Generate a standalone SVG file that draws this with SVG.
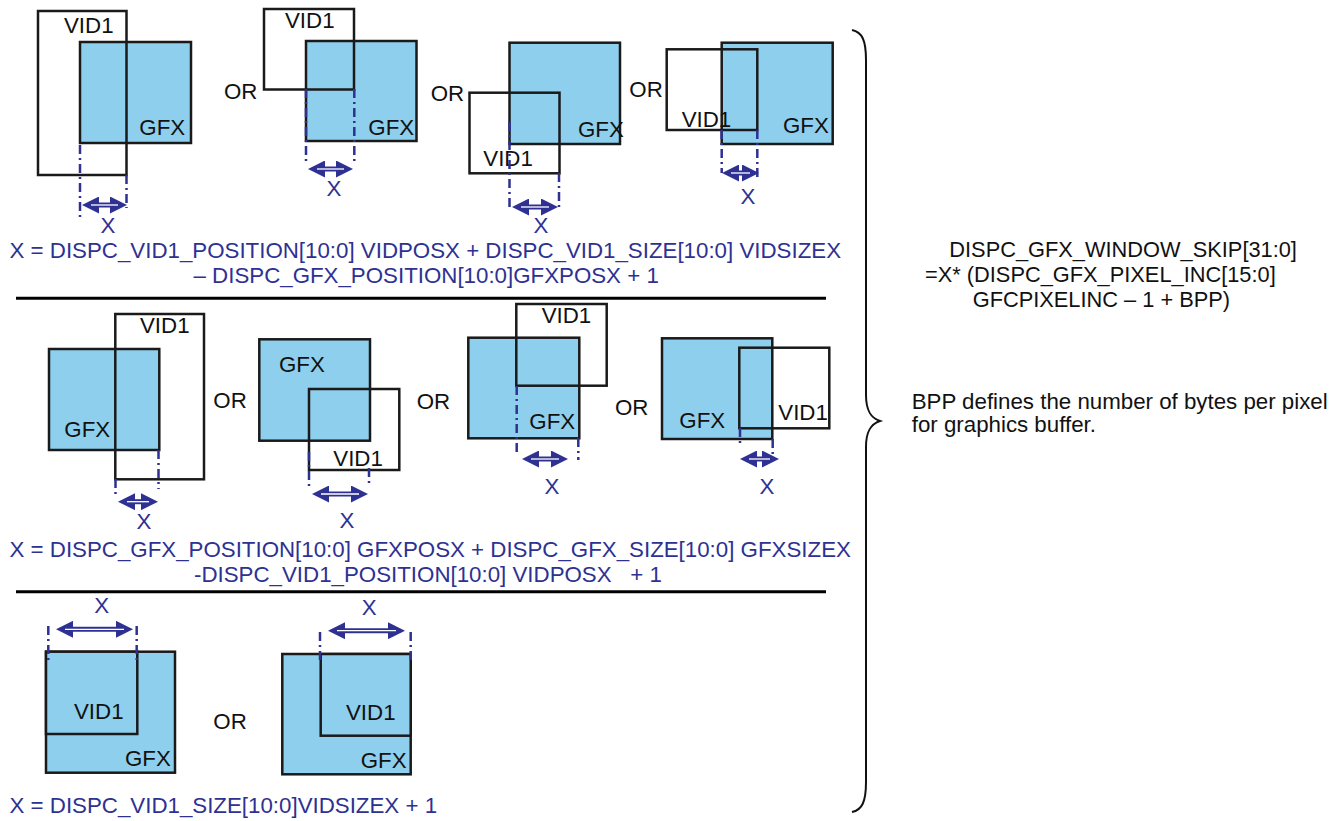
<svg xmlns="http://www.w3.org/2000/svg" width="1344" height="821" viewBox="0 0 1344 821">
<style>
.gfx{fill:#8ecfed;stroke:#1a1a1a;stroke-width:2.5}
.vid{fill:none;stroke:#1a1a1a;stroke-width:2.5}
.vidf{fill:#8ecfed;stroke:#1a1a1a;stroke-width:2.5}
text{font-family:"Liberation Sans",Arial,Helvetica,sans-serif;font-size:22.3px;fill:#111}
.blu{fill:#2e3192}
.mid{text-anchor:middle}
.rt{font-size:21.8px}
.dd{stroke:#2e3192;stroke-width:2.5;stroke-dasharray:9 4 2 4;fill:none}
.arr{stroke:#2e3192;stroke-width:5;fill:none;marker-start:url(#ah);marker-end:url(#ah)}
.arw{stroke:#ffffff;stroke-width:1.3}
.sep{stroke:#000;stroke-width:3}
.brace{fill:none;stroke:#111;stroke-width:2}
</style>
<defs>
<marker id="ah" markerUnits="userSpaceOnUse" markerWidth="17" markerHeight="17" viewBox="0 0 17 17" refX="4" refY="8.5" orient="auto-start-reverse">
<path d="M0,0 L17,8.5 L0,17 z" fill="#2e3192"/>
</marker>
</defs>
<rect width="1344" height="821" fill="#fff"/>

<g id="d1">
<rect class="gfx" x="80" y="42" width="111" height="101"/>
<rect class="vid" x="38" y="11" width="88.5" height="164"/>
<text x="64" y="33">VID1</text>
<text x="139.3" y="135">GFX</text>
</g>
<g id="or1"><text x="224" y="99">OR</text></g>
<g id="d2">
<rect class="gfx" x="306" y="41" width="110.5" height="100"/>
<rect class="vid" x="264" y="9" width="90" height="80.5"/>
<text x="285" y="28">VID1</text>
<text x="368.3" y="135">GFX</text>
</g>
<g id="or2"><text x="430.7" y="100.7">OR</text></g>
<g id="d3">
<rect class="gfx" x="509.5" y="42.7" width="110.5" height="101.3"/>
<rect class="vid" x="469.5" y="92.7" width="90" height="80.6"/>
<text x="483.3" y="165.7">VID1</text>
<text x="578" y="136.7">GFX</text>
</g>
<g id="or3"><text x="629.3" y="97.3">OR</text></g>
<g id="d4">
<rect class="gfx" x="721.7" y="42.7" width="111" height="101.3"/>
<rect class="vid" x="666.7" y="49.3" width="90.6" height="80.7"/>
<text x="681.7" y="126.7">VID1</text>
<text x="783" y="133.3">GFX</text>
</g>
<g id="f1">
<text class="blu" x="9.5" y="258.3">X = DISPC_VID1_POSITION[10:0] VIDPOSX + DISPC_VID1_SIZE[10:0] VIDSIZEX</text>
<text class="blu" x="193.5" y="283.3">– DISPC_GFX_POSITION[10:0]GFXPOSX + 1</text>
</g>

<g id="d5">
<rect class="gfx" x="49" y="349" width="110.3" height="101"/>
<rect class="vid" x="115.3" y="314" width="88.7" height="165.3"/>
<text x="140" y="333.3">VID1</text>
<text x="64.3" y="437.3">GFX</text>
</g>
<g id="or4"><text x="213.3" y="408.3">OR</text></g>
<g id="d6">
<rect class="gfx" x="259.3" y="339.3" width="110.7" height="101.4"/>
<rect class="vid" x="309" y="389" width="90.3" height="81"/>
<text x="279" y="371.7">GFX</text>
<text x="333.3" y="466">VID1</text>
</g>
<g id="or5"><text x="416.7" y="409.3">OR</text></g>
<g id="d7">
<rect class="gfx" x="468.3" y="337.7" width="111" height="100.6"/>
<rect class="vid" x="516.3" y="304" width="90.4" height="81.7"/>
<text x="541.7" y="322.7">VID1</text>
<text x="529.3" y="429.3">GFX</text>
</g>
<g id="or6"><text x="615" y="415">OR</text></g>
<g id="d8">
<rect class="gfx" x="662" y="338.3" width="110.3" height="100.7"/>
<rect class="vid" x="739.3" y="347.7" width="90" height="80.6"/>
<text x="679.3" y="428.3">GFX</text>
<text x="778.3" y="420">VID1</text>
</g>
<g id="f2">
<text class="blu" x="9.5" y="556.7">X = DISPC_GFX_POSITION[10:0] GFXPOSX + DISPC_GFX_SIZE[10:0] GFXSIZEX</text>
<text class="blu" x="194" y="581.7" xml:space="preserve" style="white-space:pre">-DISPC_VID1_POSITION[10:0] VIDPOSX   + 1</text>
</g>

<g id="d9">
<rect class="gfx" x="46" y="651.7" width="129" height="121"/>
<rect class="vidf" x="46" y="651.7" width="91.3" height="82.3"/>
<text x="74" y="719.3">VID1</text>
<text x="125" y="766">GFX</text>
</g>
<g id="or7"><text x="213.3" y="729.3">OR</text></g>
<g id="d10">
<rect class="gfx" x="282.3" y="654" width="128.4" height="120.3"/>
<rect class="vidf" x="320.7" y="654" width="90" height="81.7"/>
<text x="346" y="720">VID1</text>
<text x="360.7" y="767.7">GFX</text>
</g>
<g id="f3">
<text class="blu" x="9.5" y="812.7">X = DISPC_VID1_SIZE[10:0]VIDSIZEX + 1</text>
</g>

<g id="separators">
<line class="sep" x1="16" y1="298.3" x2="826" y2="298.3"/>
<line class="sep" x1="16" y1="591.7" x2="826" y2="591.7"/>
</g>

<g id="connectors">
<line class="dd" x1="80" y1="145" x2="80" y2="218"/>
<line class="dd" x1="126.5" y1="175" x2="126.5" y2="208"/>
<line class="dd" x1="306" y1="89" x2="306" y2="165"/>
<line class="dd" x1="354.3" y1="89" x2="354.3" y2="165"/>
<line class="dd" x1="509.5" y1="122" x2="509.5" y2="209"/>
<line class="dd" x1="559" y1="173" x2="559" y2="208"/>
<line class="dd" x1="721.7" y1="130" x2="721.7" y2="173"/>
<line class="dd" x1="757.3" y1="130" x2="757.3" y2="181"/>
<line class="dd" x1="158.5" y1="450" x2="158.5" y2="489"/>
<line class="dd" x1="115.5" y1="479" x2="115.5" y2="498"/>
<line class="dd" x1="309" y1="452" x2="309" y2="487"/>
<line class="dd" x1="369" y1="468" x2="369" y2="487"/>
<line class="dd" x1="516.7" y1="386" x2="516.7" y2="452"/>
<line class="dd" x1="578.3" y1="438" x2="578.3" y2="460"/>
<line class="dd" x1="740" y1="428" x2="740" y2="447"/>
<line class="dd" x1="772.7" y1="439" x2="772.7" y2="457"/>
<line class="dd" x1="48.3" y1="626" x2="48.3" y2="660"/>
<line class="dd" x1="136.7" y1="626" x2="136.7" y2="660"/>
<line class="dd" x1="320" y1="632" x2="320" y2="662"/>
<line class="dd" x1="410.7" y1="632" x2="410.7" y2="662"/>

<line class="arr" x1="95" y1="205" x2="114" y2="205"/><line class="arw" x1="91" y1="205" x2="118" y2="205"/>
<line class="arr" x1="321" y1="169" x2="340" y2="169"/><line class="arw" x1="317" y1="169" x2="344" y2="169"/>
<line class="arr" x1="525" y1="207" x2="545" y2="207"/><line class="arw" x1="521" y1="207" x2="549" y2="207"/>
<line class="arr" x1="735" y1="173" x2="746" y2="173"/><line class="arw" x1="731" y1="173" x2="750" y2="173"/>
<line class="arr" x1="131" y1="501.7" x2="145" y2="501.7"/><line class="arw" x1="127" y1="501.7" x2="149" y2="501.7"/>
<line class="arr" x1="325" y1="494" x2="355" y2="494"/><line class="arw" x1="321" y1="494" x2="359" y2="494"/>
<line class="arr" x1="535" y1="459" x2="555" y2="459"/><line class="arw" x1="531" y1="459" x2="559" y2="459"/>
<line class="arr" x1="753" y1="459" x2="766" y2="459"/><line class="arw" x1="749" y1="459" x2="770" y2="459"/>
<line class="arr" x1="69" y1="629.3" x2="120" y2="629.3"/><line class="arw" x1="65" y1="629.3" x2="124" y2="629.3"/>
<line class="arr" x1="341" y1="630.7" x2="392" y2="630.7"/><line class="arw" x1="337" y1="630.7" x2="396" y2="630.7"/>
</g>

<g id="xlabels">
<text class="blu mid" x="108" y="233">X</text>
<text class="blu mid" x="334" y="196">X</text>
<text class="blu mid" x="541" y="233">X</text>
<text class="blu mid" x="748" y="204">X</text>
<text class="blu mid" x="144" y="529">X</text>
<text class="blu mid" x="347" y="528">X</text>
<text class="blu mid" x="552" y="494">X</text>
<text class="blu mid" x="767" y="494">X</text>
<text class="blu mid" x="101.7" y="612.7">X</text>
<text class="blu mid" x="369.3" y="615">X</text>
</g>

<g id="brace">
<path class="brace" d="M852,30 C862,32 866,40 866,60 L866,395 C866,411 871,418 880,421 C871,424 866,431 866,447 L866,782 C866,802 862,810 852,812"/>
</g>

<g id="note">
<text class="rt" x="949.3" y="257.3">DISPC_GFX_WINDOW_SKIP[31:0]</text>
<text class="rt" x="925" y="281.7">=X* (DISPC_GFX_PIXEL_INC[15:0]</text>
<text class="rt" x="972.7" y="306.7">GFCPIXELINC – 1 + BPP)</text>
<text x="911.7" y="409">BPP defines the number of bytes per pixel</text>
<text x="911.7" y="432">for graphics buffer.</text>
</g>
</svg>
